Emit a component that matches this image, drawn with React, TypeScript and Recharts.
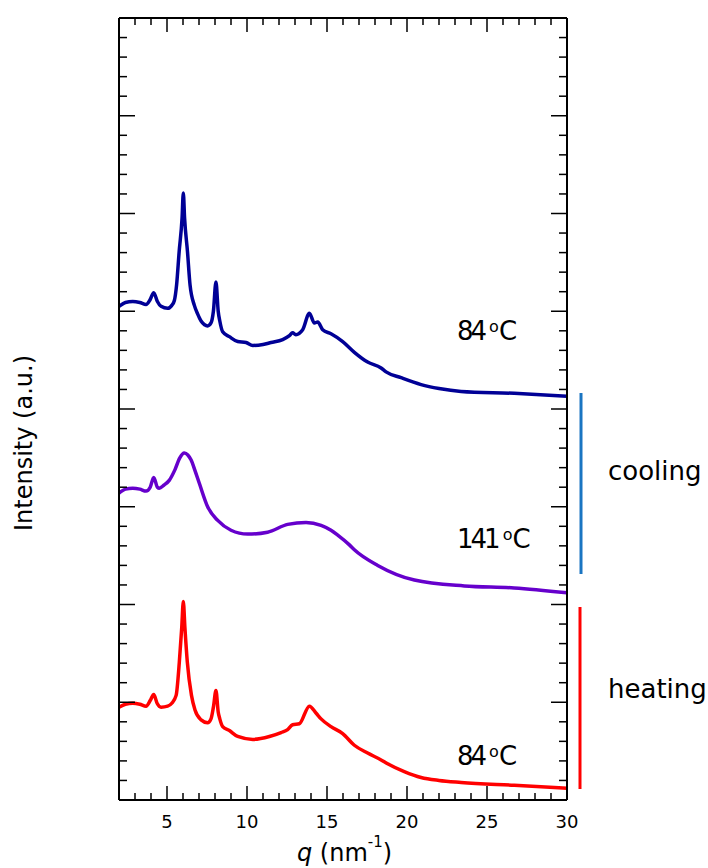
import { LineChart, Line, XAxis, YAxis } from 'recharts';

// scattering vector q (nm^-1) and offset intensities (a.u.)
const qCool84 = [2, 2.4, 2.86, 3.3, 3.69, 3.95, 4.17, 4.4, 4.63, 5.04, 5.3, 5.46, 5.6, 5.76, 5.94, 6.02, 6.1, 6.28, 6.44, 6.71, 6.92, 7.13, 7.54, 7.75, 7.9, 8.06, 8.2, 8.3, 8.48, 8.9, 9.42, 9.94, 10.36, 11.0, 11.5, 12.23, 12.65, 12.85, 13.05, 13.48, 13.9, 14.21, 14.42, 14.73, 15.25, 15.98, 16.71, 17.54, 18.38, 18.69, 19.63, 20.88, 22.0, 23.38, 26.7, 30];
const iCool84 = [5.05, 5.09, 5.1, 5.09, 5.07, 5.12, 5.19, 5.1, 5.05, 5.03, 5.06, 5.11, 5.27, 5.61, 5.95, 6.21, 5.95, 5.61, 5.27, 5.06, 4.97, 4.9, 4.85, 4.88, 5.0, 5.3, 5.0, 4.9, 4.79, 4.74, 4.69, 4.68, 4.65, 4.66, 4.68, 4.71, 4.75, 4.78, 4.76, 4.81, 4.98, 4.88, 4.89, 4.81, 4.77, 4.69, 4.58, 4.48, 4.42, 4.38, 4.32, 4.25, 4.21, 4.18, 4.16, 4.13];

const qCool141 = [2, 2.4, 2.86, 3.3, 3.69, 3.95, 4.17, 4.4, 4.52, 4.8, 5.14, 5.5, 5.8, 6.08, 6.3, 6.5, 6.75, 7.02, 7.54, 8.17, 9.0, 10.04, 11.29, 12.54, 13.69, 14.63, 15.25, 15.67, 16.4, 16.71, 18.17, 20.46, 23.58, 26.7, 30];
const iCool141 = [3.14, 3.18, 3.19, 3.18, 3.16, 3.2, 3.3, 3.2, 3.19, 3.22, 3.27, 3.38, 3.5, 3.55, 3.53, 3.48, 3.37, 3.24, 3.0, 2.86, 2.76, 2.72, 2.74, 2.82, 2.84, 2.81, 2.76, 2.71, 2.61, 2.56, 2.4, 2.25, 2.19, 2.17, 2.12];

const qHeat84 = [2, 2.4, 2.86, 3.3, 3.69, 3.96, 4.17, 4.38, 4.63, 5.04, 5.3, 5.57, 5.77, 5.92, 6.02, 6.12, 6.27, 6.53, 6.75, 7.13, 7.54, 7.75, 7.9, 8.06, 8.2, 8.3, 8.48, 8.9, 9.42, 10.36, 11.4, 12.13, 12.54, 12.85, 13.27, 13.9, 14.31, 14.63, 15.25, 15.98, 16.71, 17.54, 18.38, 18.79, 19.83, 20.88, 22.0, 23.38, 26.7, 30];
const iHeat84 = [0.95, 0.98, 0.99, 0.98, 0.96, 1.02, 1.08, 0.99, 0.95, 0.96, 0.99, 1.07, 1.41, 1.76, 2.03, 1.76, 1.41, 1.07, 0.92, 0.82, 0.79, 0.83, 0.95, 1.12, 0.9, 0.83, 0.75, 0.71, 0.65, 0.62, 0.65, 0.69, 0.72, 0.77, 0.78, 0.96, 0.89, 0.83, 0.75, 0.68, 0.56, 0.48, 0.41, 0.37, 0.29, 0.23, 0.2, 0.18, 0.15, 0.12];

const qTicks = [2, 3, 4, 5, 6, 7, 8, 9, 10, 11, 12, 13, 14, 15, 16, 17, 18, 19, 20, 21, 22, 23, 24, 25, 26, 27, 28, 29, 30];
const qLabels = [5, 10, 15, 20, 25, 30];
const intensityTicks = Array.from({ length: 41 }, (_, i) => Math.round(i * 2) / 10);

const zip = (q: number[], v: number[]) => q.map((x, i) => ({ q: x, v: v[i] }));
const cool84 = zip(qCool84, iCool84);
const cool141 = zip(qCool141, iCool141);
const heat84 = zip(qHeat84, iHeat84);

const FONT = 'DejaVu Sans';

const isMajor = (v: number) => Math.abs(v - Math.round(v)) < 1e-6;

const BottomTick = (props: any) => {
  const { x, y, payload } = props;
  const major = qLabels.includes(payload.value);
  return (
    <g>
      <line x1={x} x2={x} y1={y} y2={y - (major ? 14 : 7)} stroke="#000" strokeWidth={1.5} />
      {major && (
        <text x={x} y={y + 28} textAnchor="middle" fontSize={18} fontFamily={FONT} fill="#000">
          {payload.value}
        </text>
      )}
    </g>
  );
};

const TopTick = (props: any) => {
  const { x, y, payload } = props;
  const major = qLabels.includes(payload.value);
  return <line x1={x} x2={x} y1={y} y2={y + (major ? 14 : 7)} stroke="#000" strokeWidth={1.5} />;
};

const LeftTick = (props: any) => {
  const { x, y, payload } = props;
  return <line x1={x} x2={x + (isMajor(payload.value) ? 16 : 8)} y1={y} y2={y} stroke="#000" strokeWidth={1.5} />;
};

const RightTick = (props: any) => {
  const { x, y, payload } = props;
  return <line x1={x} x2={x - (isMajor(payload.value) ? 16 : 8)} y1={y} y2={y} stroke="#000" strokeWidth={1.5} />;
};

const axisLine = { stroke: '#000', strokeWidth: 2 };

const TempLabel = ({ x, y, value }: { x: number; y: number; value: string }) => (
  <text x={x} y={y} fontFamily={FONT} fontSize={26} fill="#000">
    <tspan letterSpacing={-3}>{value}</tspan>
    <tspan dx={5} dy={-8} fontSize={16}>o</tspan>
    <tspan dy={8}>C</tspan>
  </text>
);

export default function App() {
  return (
    <div style={{ position: 'absolute', left: 0, top: 0, width: 708, height: 868, background: '#fff' }}>
      <LineChart width={708} height={868} margin={{ top: 8, right: 121, bottom: 38, left: 99 }}>
        <XAxis
          dataKey="q"
          type="number"
          domain={[2, 30]}
          ticks={qTicks}
          interval={0}
          height={30}
          tickSize={0}
          tickMargin={0}
          tickLine={false}
          axisLine={axisLine}
          tick={<BottomTick />}
          allowDataOverflow
        />
        <XAxis
          xAxisId="top"
          orientation="top"
          dataKey="q"
          type="number"
          domain={[2, 30]}
          ticks={qTicks}
          interval={0}
          height={10}
          tickSize={0}
          tickMargin={0}
          tickLine={false}
          axisLine={axisLine}
          tick={<TopTick />}
          allowDataOverflow
        />
        <YAxis
          type="number"
          domain={[0, 8]}
          ticks={intensityTicks}
          interval={0}
          width={20}
          tickSize={0}
          tickMargin={0}
          tickLine={false}
          axisLine={axisLine}
          tick={<LeftTick />}
          allowDataOverflow
        />
        <YAxis
          yAxisId="right"
          orientation="right"
          type="number"
          domain={[0, 8]}
          ticks={intensityTicks}
          interval={0}
          width={20}
          tickSize={0}
          tickMargin={0}
          tickLine={false}
          axisLine={axisLine}
          tick={<RightTick />}
          allowDataOverflow
        />
        <Line data={cool84} dataKey="v" type="monotone" stroke="#000096" strokeWidth={3.5} dot={false} isAnimationActive={false} />
        <Line data={cool141} dataKey="v" type="monotone" stroke="#6600cc" strokeWidth={3.5} dot={false} isAnimationActive={false} />
        <Line data={heat84} dataKey="v" type="monotone" stroke="#ff0000" strokeWidth={3.5} dot={false} isAnimationActive={false} />
      </LineChart>
      <svg width={708} height={868} style={{ position: 'absolute', left: 0, top: 0, pointerEvents: 'none' }}>
        <TempLabel x={457} y={340} value="84" />
        <TempLabel x={457} y={548} value="141" />
        <TempLabel x={457} y={765} value="84" />
        <line x1={581} x2={581} y1={393} y2={574} stroke="#1a75c2" strokeWidth={3} />
        <line x1={580} x2={580} y1={607} y2={789} stroke="#ff0000" strokeWidth={3} />
        <text x={608} y={480} fontFamily={FONT} fontSize={26} fill="#000">cooling</text>
        <text x={608} y={698} fontFamily={FONT} fontSize={26} fill="#000">heating</text>
        <text transform="translate(32,443) rotate(-90)" textAnchor="middle" fontFamily={FONT} fontSize={24} fill="#000">
          Intensity (a.u.)
        </text>
        <text x={297} y={861} fontFamily={FONT} fontSize={24} fill="#000">
          <tspan fontStyle="italic">q</tspan>
          <tspan> (nm</tspan>
          <tspan dy={-14} fontSize={15}>-1</tspan>
          <tspan dy={14}>)</tspan>
        </text>
      </svg>
    </div>
  );
}
